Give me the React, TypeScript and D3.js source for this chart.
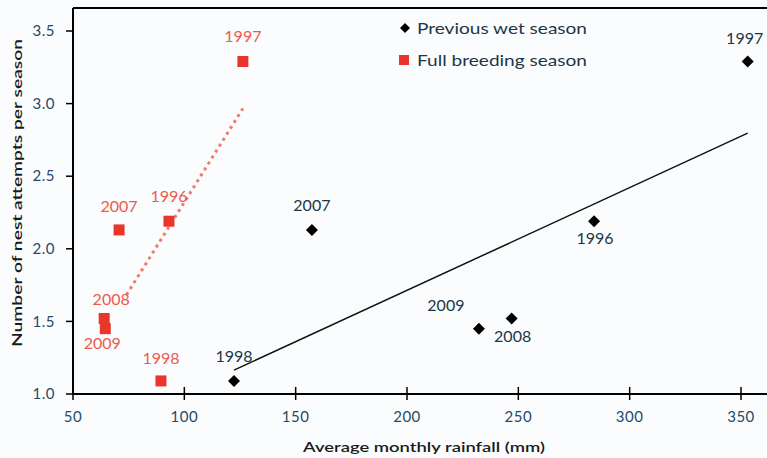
import React from "react";
import * as d3 from "d3";

// Nest attempts per season against average monthly rainfall
const years = ["1996", "1997", "1998", "2007", "2008", "2009"];
const wetSeasonRain = [284, 353, 122.3, 157.3, 247, 232.3];
const breedingSeasonRain = [93.1, 126.3, 89.5, 70.7, 64, 64.5];
const nestAttempts = [2.19, 3.29, 1.09, 2.13, 1.52, 1.45];

const xTicks = [50, 100, 150, 200, 250, 300, 350];
const yTicks = [1.0, 1.5, 2.0, 2.5, 3.0, 3.5];

const seriesNames = ["Previous wet season", "Full breeding season"];

// Label offsets (px) relative to each point, per year
const wetLabelOffset: [number, number][] = [
  [1, 17], [-3, -23], [0, -25], [0, -25], [1, 18], [-33, -23],
];
const breedingLabelOffset: [number, number][] = [
  [0, -25], [0, -25], [0, -23], [0, -24], [7, -19], [-3, 15],
];

const W = 767;
const H = 458;
const left = 73;
const top = 8;
const right = 767;
const bottom = 394;

const FONT = "Lato, 'Open Sans', sans-serif";
const RED = "#e8362c";
const LABEL_DARK = "#1c3646";
const TICK_COLOR = "#264a66";

function fit(xs: number[], ys: number[]) {
  const mx = d3.mean(xs)!;
  const my = d3.mean(ys)!;
  let sxy = 0;
  let sxx = 0;
  xs.forEach((x, i) => {
    sxy += (x - mx) * (ys[i] - my);
    sxx += (x - mx) * (x - mx);
  });
  const slope = sxy / sxx;
  return (x: number) => my + slope * (x - mx);
}

export default function App() {
  const x = d3.scaleLinear().domain([50, 350]).range([left, 741]);
  const y = d3.scaleLinear().domain([1.0, 3.5]).range([bottom, 31]);

  const wetFit = fit(wetSeasonRain, nestAttempts);
  const breedFit = fit(breedingSeasonRain, nestAttempts);

  const wetX0 = d3.min(wetSeasonRain)!;
  const wetX1 = d3.max(wetSeasonRain)!;
  const breedX0 = 74;
  const breedX1 = d3.max(breedingSeasonRain)!;

  const line = d3
    .line<[number, number]>()
    .x((d) => x(d[0]))
    .y((d) => y(d[1]));

  const diamond = (cx: number, cy: number, r: number) =>
    `M${cx},${cy - r}L${cx + r},${cy}L${cx},${cy + r}L${cx - r},${cy}Z`;

  return (
    <svg
      width={W}
      height={H}
      style={{ position: "absolute", left: 0, top: 0, background: "#fbfcfd" }}
      fontFamily={FONT}
    >
      <rect x={0} y={0} width={W} height={H} fill="#fbfcfd" />

      {/* frame: top edge and axes */}
      <line x1={left} x2={right} y1={top} y2={top} stroke="#000" strokeWidth={2} />
      <line x1={left} x2={left} y1={top} y2={bottom + 1} stroke="#000" strokeWidth={2} />
      <line x1={left - 1} x2={right} y1={bottom} y2={bottom} stroke="#000" strokeWidth={2} />

      {/* y ticks */}
      {yTicks.map((t) => (
        <g key={"y" + t}>
          <line x1={left - 7} x2={left} y1={y(t)} y2={y(t)} stroke="#000" strokeWidth={1.5} />
          <text
            x={left - 18}
            y={y(t)}
            dy="0.35em"
            textAnchor="end"
            fontSize={15}
            fill={TICK_COLOR}
            letterSpacing={0.5}
          >
            {t.toFixed(1)}
          </text>
        </g>
      ))}

      {/* x ticks */}
      {xTicks.map((t) => (
        <g key={"x" + t}>
          <line x1={x(t)} x2={x(t)} y1={bottom - 7} y2={bottom + 6} stroke="#000" strokeWidth={1.5} />
          <text
            x={x(t)}
            y={417}
            dy="0.35em"
            textAnchor="middle"
            fontSize={15}
            fill={TICK_COLOR}
            letterSpacing={0.5}
          >
            {t}
          </text>
        </g>
      ))}

      {/* axis titles */}
      <text
        x={424}
        y={447}
        dy="0.35em"
        textAnchor="middle"
        fontSize={14}
        fontWeight={600}
        fill="#1a1a1a"
        textLength={242}
        lengthAdjust="spacingAndGlyphs"
      >
        Average monthly rainfall (mm)
      </text>
      <text
        transform={`translate(17,${193}) rotate(-90)`}
        dy="0.35em"
        textAnchor="middle"
        fontSize={14}
        fontWeight={600}
        fill="#1a1a1a"
        textLength={308}
        lengthAdjust="spacingAndGlyphs"
      >
        Number of nest attempts per season
      </text>

      {/* regression lines */}
      <path
        d={line([
          [wetX0, wetFit(wetX0)],
          [wetX1, wetFit(wetX1)],
        ])!}
        stroke="#111"
        strokeWidth={1.5}
        fill="none"
      />
      <path
        d={line([
          [breedX0, breedFit(breedX0)],
          [breedX1, breedFit(breedX1)],
        ])!}
        stroke="#f07a6e"
        strokeWidth={3}
        strokeDasharray="3 4"
        fill="none"
      />

      {/* full breeding season points */}
      {breedingSeasonRain.map((r, i) => (
        <rect
          key={"b" + i}
          x={x(r) - 5.5}
          y={y(nestAttempts[i]) - 5.5}
          width={11}
          height={11}
          fill={RED}
        />
      ))}
      {breedingSeasonRain.map((r, i) => (
        <text
          key={"bl" + i}
          x={x(r) + breedingLabelOffset[i][0]}
          y={y(nestAttempts[i]) + breedingLabelOffset[i][1]}
          dy="0.35em"
          textAnchor="middle"
          fontSize={16}
          fill="#ec5a4c"
        >
          {years[i]}
        </text>
      ))}

      {/* previous wet season points */}
      {wetSeasonRain.map((r, i) => (
        <path key={"w" + i} d={diamond(x(r), y(nestAttempts[i]), 6)} fill="#000" />
      ))}
      {wetSeasonRain.map((r, i) => (
        <text
          key={"wl" + i}
          x={x(r) + wetLabelOffset[i][0]}
          y={y(nestAttempts[i]) + wetLabelOffset[i][1]}
          dy="0.35em"
          textAnchor="middle"
          fontSize={16}
          fill={LABEL_DARK}
        >
          {years[i]}
        </text>
      ))}

      {/* legend */}
      <path d={diamond(405, 28, 5)} fill="#000" />
      <text
        x={417}
        y={28}
        dy="0.35em"
        fontSize={16}
        fill={LABEL_DARK}
        textLength={170}
        lengthAdjust="spacingAndGlyphs"
      >
        {seriesNames[0]}
      </text>
      <rect x={399} y={55} width={10} height={10} fill={RED} />
      <text
        x={417}
        y={60}
        dy="0.35em"
        fontSize={16}
        fill={LABEL_DARK}
        textLength={170}
        lengthAdjust="spacingAndGlyphs"
      >
        {seriesNames[1]}
      </text>
    </svg>
  );
}
